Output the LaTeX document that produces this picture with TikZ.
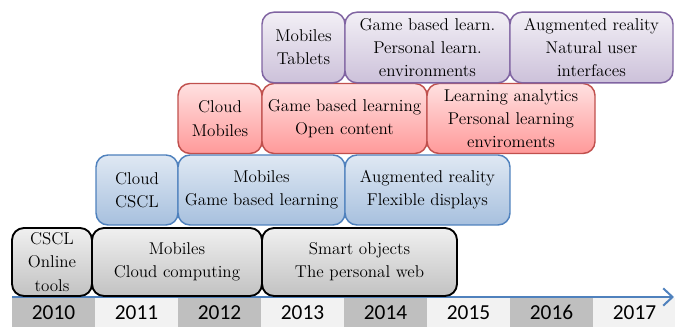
\documentclass[tikz,border=0pt]{standalone}
\usepackage{fontspec}
\newfontfamily\yearfont{Carlito}
\usetikzlibrary{arrows.meta}
\definecolor{tlblue}{HTML}{4F81BD}
\definecolor{tlred}{HTML}{C0504D}
\definecolor{tlpurple}{HTML}{8064A2}
\begin{document}
\begin{tikzpicture}[x=0.75pt,y=-0.75pt,
  box/.style={rectangle, rounded corners=9pt, align=center, inner sep=0pt,
    font=\rmfamily\fontsize{12.8}{17.4}\selectfont},
  greybox/.style={box, draw=black, line width=1.4pt, top color=black!6, bottom color=black!24},
  bluebox/.style={box, draw=tlblue, line width=1.1pt, top color=tlblue!18, bottom color=tlblue!50},
  redbox/.style={box, draw=tlred, line width=1.1pt, top color=red!12, bottom color=red!40},
  purplebox/.style={box, draw=tlpurple, line width=1.1pt, top color=tlpurple!10, bottom color=tlpurple!40},
  yearcell/.style={rectangle, inner sep=0pt, minimum width=62.25pt, minimum height=21.75pt,
    font=\yearfont\fontsize{16}{16}\selectfont}]
\useasboundingbox (0,0) rectangle (675,327);

% years
\foreach \yr [count=\i from 0] in {2010,...,2017}{
  \pgfmathsetmacro{\cx}{53.5+83*\i}
  \ifodd\i
    \node(y\yr)[yearcell, fill=black!5] at (\cx,312.5) {\yr};
  \else
    \node(y\yr)[yearcell, fill=black!25] at (\cx,312.5) {\yr};
  \fi
}
\coordinate(axisS) at (12,297);
\coordinate(axisE) at (674,297);
\draw[tlblue, line width=1.5pt, -{Straight Barb[length=7pt,width=13pt]}] (axisS) -- (axisE);

% grey row
\node(G1)[greybox, minimum width=60pt, minimum height=51pt] at (52,262) {CSCL\\Online\\tools};
\node(G2)[greybox, minimum width=127.5pt, minimum height=51pt] at (177,262) {Mobiles\\Cloud computing};
\node(G3)[greybox, minimum width=146.25pt, minimum height=51pt] at (359.5,262) {Smart objects\\The personal web};

% blue row
\node(B1)[bluebox, minimum width=61.5pt, minimum height=52.5pt] at (137,190) {Cloud\\CSCL};
\node(B2)[bluebox, minimum width=125.25pt, minimum height=52.5pt] at (261.5,190) {Mobiles\\Game based learning};
\node(B3)[bluebox, minimum width=123.75pt, minimum height=52.5pt] at (427.5,190) {Augmented reality\\Flexible displays};

% red row
\node(R1)[redbox, minimum width=63pt, minimum height=52.5pt] at (220,118.5) {Cloud\\Mobiles};
\node(R2)[redbox, minimum width=123.75pt, minimum height=52.5pt] at (344.5,118.5) {Game based learning\\Open content};
\node(R3)[redbox, minimum width=126pt, minimum height=52.5pt] at (511,118.5) {Learning analytics\\Personal learning\\enviroments};

% purple row
\node(P1)[purplebox, minimum width=62.25pt, minimum height=53pt] at (303.5,47.5) {Mobiles\\Tablets};
\node(P2)[purplebox, minimum width=123.75pt, minimum height=53pt] at (427.5,47.5) {Game based learn.\\Personal learn.\\environments};
\node(P3)[purplebox, minimum width=122.25pt, minimum height=53pt] at (591.5,47.5) {Augmented reality\\Natural user\\interfaces};
\end{tikzpicture}
\end{document}
